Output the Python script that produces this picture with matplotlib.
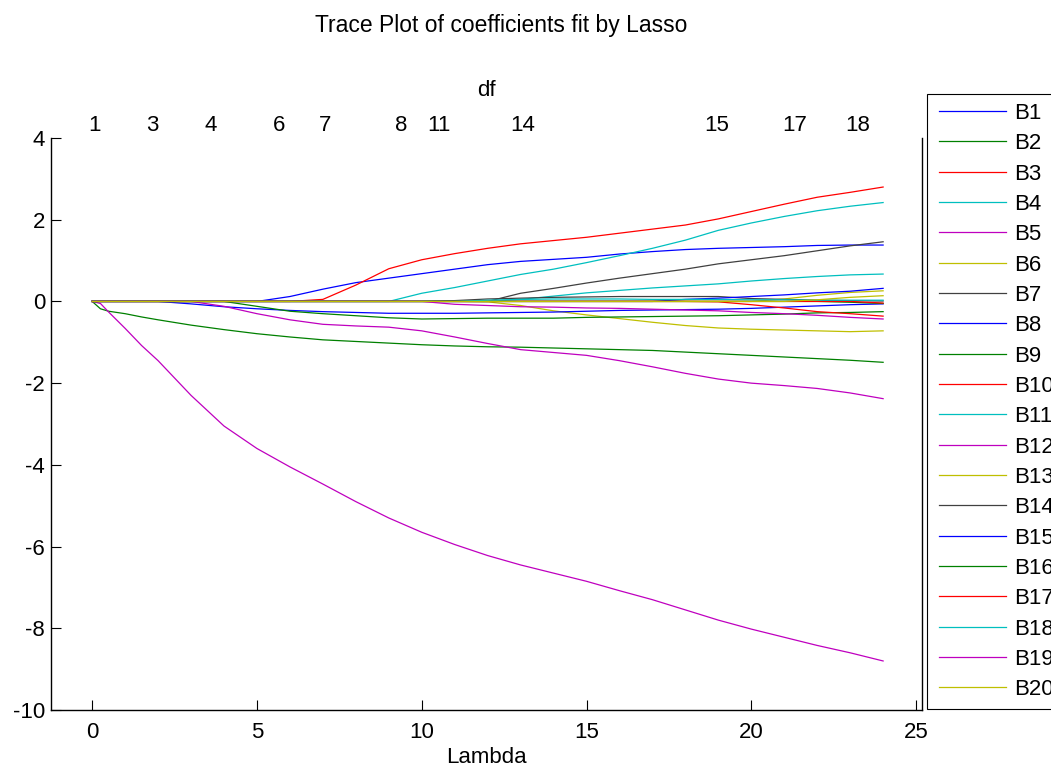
import matplotlib
matplotlib.use('Agg')
import matplotlib.pyplot as plt
from matplotlib.lines import Line2D
from matplotlib.legend_handler import HandlerLine2D
from matplotlib.transforms import blended_transform_factory

plt.rcParams['font.family'] = ['Liberation Sans', 'DejaVu Sans']

# ---------------- data ----------------
lam = [0, 0.25, 0.5, 1, 1.5, 2, 3, 4, 5, 6, 7, 8, 9, 10, 11, 12, 13, 14,
       15, 16, 17, 18, 19, 20, 21, 22, 23, 24]

B1 = [0, 0, 0, 0, 0, 0, 0, 0, 0, 0.12, 0.3, 0.46, 0.57, 0.68, 0.79, 0.9, 0.98,
      1.03, 1.08, 1.16, 1.22, 1.27, 1.3, 1.32, 1.34, 1.37, 1.38, 1.38]
B2 = [0, -0.18, -0.24, -0.3, -0.38, -0.45, -0.58, -0.69, -0.79, -0.87, -0.94,
      -0.98, -1.02, -1.06, -1.09, -1.11, -1.12, -1.14, -1.16, -1.18, -1.2,
      -1.24, -1.28, -1.32, -1.36, -1.4, -1.44, -1.49]
B3 = [0, 0, 0, 0, 0, 0, 0, 0, 0, 0, 0.05, 0.4, 0.8, 1.02, 1.17, 1.3, 1.41, 1.49,
      1.57, 1.67, 1.77, 1.87, 2.02, 2.2, 2.38, 2.55, 2.67, 2.8]
B4 = [0, 0, 0, 0, 0, 0, 0, 0, 0, 0, 0, 0, 0, 0.2, 0.34, 0.5, 0.66, 0.79, 0.95,
      1.12, 1.3, 1.5, 1.74, 1.92, 2.08, 2.22, 2.33, 2.42]
B5 = [0, -0.05, -0.26, -0.66, -1.08, -1.45, -2.3, -3.05, -3.6, -4.05, -4.47,
      -4.9, -5.3, -5.65, -5.95, -6.22, -6.45, -6.65, -6.85, -7.08, -7.3,
      -7.55, -7.8, -8.02, -8.22, -8.42, -8.6, -8.8]
B6 = [0, 0, 0, 0, 0, 0, 0, 0, 0, 0, 0, 0, 0, 0, 0, -0.01, -0.1, -0.23, -0.33,
      -0.42, -0.51, -0.59, -0.65, -0.68, -0.7, -0.72, -0.74, -0.72]
B7 = [0, 0, 0, 0, 0, 0, 0, 0, 0, 0, 0, 0, 0, 0, 0, 0, 0.2, 0.32, 0.45, 0.57,
      0.68, 0.79, 0.92, 1.02, 1.12, 1.24, 1.36, 1.46]
B8 = [0, 0, 0, 0, 0, 0, -0.06, -0.13, -0.18, -0.22, -0.25, -0.27, -0.29, -0.29,
      -0.29, -0.28, -0.27, -0.26, -0.24, -0.22, -0.21, -0.2, -0.19, -0.17,
      -0.14, -0.11, -0.08, -0.06]
B9 = [0, 0, 0, 0, 0, 0, 0, 0, -0.12, -0.24, -0.3, -0.35, -0.4, -0.43, -0.42,
      -0.41, -0.41, -0.41, -0.39, -0.38, -0.37, -0.36, -0.35, -0.33, -0.31,
      -0.28, -0.27, -0.25]
B10 = [0, 0, 0, 0, 0, 0, 0, 0, 0, 0, 0, 0, 0, 0, 0, 0, 0, 0, 0, 0, 0, 0,
       -0.01, -0.08, -0.16, -0.25, -0.3, -0.36]
B11 = [0, 0, 0, 0, 0, 0, 0, 0, 0, 0, 0, 0, 0, 0, 0, 0, 0.05, 0.13, 0.21, 0.27,
       0.33, 0.38, 0.43, 0.5, 0.56, 0.61, 0.65, 0.67]
B12 = [0, 0, 0, 0, 0, 0, 0, -0.12, -0.3, -0.45, -0.56, -0.6, -0.63, -0.72,
       -0.87, -1.03, -1.18, -1.25, -1.32, -1.45, -1.6, -1.76, -1.9, -2.0,
       -2.06, -2.13, -2.24, -2.38]
B13 = [0, 0, 0, 0, 0, 0, 0, 0, 0, 0, 0, 0, 0, 0, 0, 0, 0, 0, 0, 0, 0, 0, 0, 0,
       0.06, 0.15, 0.22, 0.26]
B14 = [0, 0, 0, 0, 0, 0, 0, 0, 0, 0, 0, 0, 0, 0, 0.02, 0.06, 0.08, 0.1, 0.11,
       0.12, 0.12, 0.12, 0.12, 0.07, 0.05, 0.03, 0.02, 0.01]
B15 = [0, 0, 0, 0, 0, 0, 0, 0, 0, 0, 0, 0, 0, 0, 0, 0, 0, 0, 0, 0, 0, 0.05,
       0.08, 0.12, 0.16, 0.21, 0.25, 0.32]
B16 = [0, 0, 0, 0, 0, 0, 0, 0, 0, 0, 0, 0, 0, 0, 0, 0, 0, 0, 0, 0, 0, 0, 0, 0,
       0, 0, -0.02, -0.05]
B17 = [0, 0, 0, 0, 0, 0, 0, 0, 0, 0, 0, 0, 0, 0, 0, 0, 0, 0, 0, 0, 0, 0, 0, 0,
       0, 0, 0, -0.04]
B18 = [0, 0, 0, 0, 0, 0, 0, 0, 0, 0, 0, 0, 0, 0, 0, 0.03, 0.05, 0.06, 0.06,
       0.06, 0.05, 0.05, 0.05, 0.04, 0.04, 0.03, 0.03, 0.03]
B19 = [0, 0, 0, 0, 0, 0, 0, 0, 0, 0, 0, 0, 0, 0, -0.07, -0.1, -0.13, -0.14,
       -0.16, -0.17, -0.19, -0.21, -0.23, -0.27, -0.3, -0.34, -0.39, -0.43]
B20 = [0, 0, 0, 0, 0, 0, 0, 0, 0, 0, 0, 0, 0, 0, 0, 0, 0, 0, 0, 0, 0, 0, 0, 0,
       0, 0.04, 0.1, 0.14]

series = [B1, B2, B3, B4, B5, B6, B7, B8, B9, B10,
          B11, B12, B13, B14, B15, B16, B17, B18, B19, B20]
names = ['B1', 'B2', 'B3', 'B4', 'B5', 'B6', 'B7', 'B8', 'B9', 'B10',
         'B11', 'B12', 'B13', 'B14', 'B15', 'B16', 'B17', 'B18', 'B19', 'B20']

palette = [(0, 0, 1), (0, 0.5, 0), (1, 0, 0), (0, 0.75, 0.75),
           (0.75, 0, 0.75), (0.75, 0.75, 0), (0.25, 0.25, 0.25)]

df_labels = [1, 3, 4, 6, 7, 8, 11, 14, 15, 17, 18]
df_lambda = [0.07, 1.81, 3.59, 5.66, 7.08, 9.39, 10.53, 13.06, 18.96, 21.32, 23.22]

x_ticks = [0, 5, 10, 15, 20, 25]
y_ticks = [-10, -8, -6, -4, -2, 0, 2, 4]

# ---------------- figure ----------------
W, H = 1051, 766
fig = plt.figure(figsize=(W / 100, H / 100), dpi=100)
ax = fig.add_axes([51 / W, (H - 710) / H, (922 - 51) / W, (710 - 138) / H])

for i, (name, vals) in enumerate(zip(names, series)):
    ax.plot(lam, vals, color=palette[i % 7], lw=0.9, label=name)

ax.set_xlim(-1.25, 25.18)
ax.set_ylim(-10, 4)
ax.set_xticks(x_ticks)
ax.set_xticklabels([str(v) for v in x_ticks])
ax.set_yticks(y_ticks)
ax.set_yticklabels([str(v) for v in y_ticks])

ax.spines['top'].set_visible(False)
for s in ['left', 'bottom', 'right']:
    ax.spines[s].set_linewidth(1.0)
    ax.spines[s].set_color('black')

ax.tick_params(axis='both', direction='in', length=7.2, width=0.8,
               labelsize=16, colors='black')
ax.tick_params(axis='x', pad=8.5, top=False)
ax.tick_params(axis='y', pad=4.3, right=False)

# df labels on top
trans = blended_transform_factory(ax.transData, ax.transAxes)
for v, l in zip(df_labels, df_lambda):
    ax.text(l, 1.0128, str(v), ha='center', va='baseline', fontsize=16,
            transform=trans)
ax.text(0.5, 1.0734, 'df', ha='center', va='baseline', fontsize=16,
        transform=ax.transAxes)

# axis label and title
ax.text(0.5, (710 - 763) / 572, 'Lambda', ha='center', va='baseline',
        fontsize=16, transform=ax.transAxes)
fig.text(501.5 / W, 1 - 32 / H, 'Trace Plot of coefficients fit by Lasso',
         ha='center', va='baseline', fontsize=16.5)

leg = ax.legend(loc='upper left', bbox_to_anchor=(927 / W, 1 - 94 / H),
                bbox_transform=fig.transFigure, fontsize=16, frameon=True,
                fancybox=False, edgecolor='black', borderpad=0.4,
                labelspacing=0.42, handlelength=3.3, handletextpad=0.21,
                borderaxespad=0, numpoints=2,
                handler_map={Line2D: HandlerLine2D(marker_pad=0.15)})
leg.get_frame().set_linewidth(0.8)
leg.get_frame().set_alpha(1)

fig.savefig('out.png', dpi=100)
